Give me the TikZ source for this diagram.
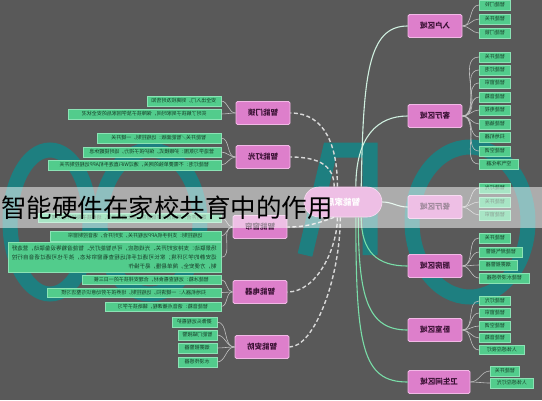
\documentclass[tikz,border=0pt]{standalone}
\usepackage{fontspec}
\usepackage{graphicx}
\setmainfont{Noto Sans CJK SC}
\XeTeXlinebreaklocale "zh"
\XeTeXlinebreakskip=0pt plus 1pt
\definecolor{bg}{HTML}{595959}
\definecolor{wm}{HTML}{1E7F80}
\definecolor{pinkf}{HTML}{DD7FCB}
\definecolor{pinkb}{HTML}{F2B8E6}
\definecolor{pinkt}{HTML}{3B1235}
\definecolor{leaff}{HTML}{52CC8C}
\definecolor{leafb}{HTML}{8BE3B5}
\definecolor{leaft}{HTML}{173B27}
\definecolor{ml1}{HTML}{CFEFDF}
\definecolor{ml2}{HTML}{79DDA8}
\definecolor{dl}{HTML}{D9D9D9}
\definecolor{ll}{HTML}{BFBFBF}
\tikzset{
  pnode/.style={rectangle, rounded corners=1.5pt, fill=pinkf, draw=pinkb, line width=0.9pt,
    minimum height=23pt, minimum width=54pt, inner sep=1pt, text=pinkt,
    font=\fontsize{7.5}{9}\selectfont\bfseries},
  cnode/.style={rectangle, rounded corners=15pt, fill=pinkf, draw=pinkb, line width=0.6pt,
    minimum height=30pt, minimum width=78pt, text=white, font=\fontsize{8.5}{10}\selectfont\bfseries},
  leaf/.style={rectangle, fill=leaff, draw=leafb, line width=0.5pt, minimum height=9.5pt,
    inner sep=1.2pt, text=leaft, font=\fontsize{5}{6}\selectfont},
  mline/.style={line width=1.1pt},
  dline/.style={draw=dl, line width=1.4pt, dash pattern=on 4pt off 2.5pt},
  lline/.style={draw=ll, line width=0.6pt},
  wmark/.style={draw=wm, line width=15pt}
}
\begin{document}
\begin{tikzpicture}[x=1pt,y=1pt]
\useasboundingbox (0,0) rectangle (542,-400);
\fill[bg] (0,0) rectangle (542,-400);
% watermark
\draw[wmark] (50,-222) ellipse [x radius=40, y radius=72];
\draw[wmark] (150,-222) ellipse [x radius=50, y radius=72];
\draw[wmark, line join=miter] (305,-255) -- (330,-150) -- (370,-150) -- (370,-255);
\draw[wmark] (470,-222) ellipse [x radius=58, y radius=75];

% center
\node[cnode] (ctr) at (343,-202) {\reflectbox{智能家居}};

% right main nodes
\node[pnode] (r1) at (435,-26) {\reflectbox{入户区域}};
\node[pnode] (r2) at (435,-116) {\reflectbox{客厅区域}};
\node[pnode] (r3) at (435,-207) {\reflectbox{餐厅区域}};
\node[pnode] (r4) at (435,-266) {\reflectbox{厨房区域}};
\node[pnode] (r5) at (435,-330) {\reflectbox{卧室区域}};
\node[pnode, minimum width=62pt] (r6) at (439,-382) {\reflectbox{卫生间区域}};

% left main nodes
\node[pnode] (l1) at (263,-113) {\reflectbox{智能门锁}};
\node[pnode] (l2) at (263,-157) {\reflectbox{智能灯光}};
\node[pnode] (l3) at (260,-227) {\reflectbox{智能窗帘}};
\node[pnode] (l4) at (260,-292) {\reflectbox{智能电器}};
\node[pnode] (l5) at (262,-347) {\reflectbox{智能安防}};

% main connectors right
\draw[mline, ml1] (ctr.40) .. controls +(2,110) and +(-40,0) .. (r1.west);
\draw[mline, ml1] (ctr.50) .. controls +(0,50) and +(-30,0) .. (r2.west);
\draw[mline, ml1] (ctr.east) to[out=0,in=180] (r3.west);
\draw[mline, ml2] (ctr.-40) .. controls +(0,-35) and +(-30,0) .. (r4.west);
\draw[mline, ml2] (ctr.-45) .. controls +(0,-80) and +(-40,0) .. (r5.west);
\draw[mline, ml2] (ctr.-50) .. controls +(0,-130) and +(-45,0) .. (r6.west);

% main connectors left (dashed)
\draw[dline] (ctr.110) .. controls +(0,40) and +(35,0) .. (l1.east);
\draw[dline] (ctr.120) .. controls +(0,20) and +(30,0) .. (l2.east);
\draw[dline] (ctr.240) to[out=200,in=0] (l3.east);
\draw[dline] (ctr.250) .. controls +(0,-30) and +(30,0) .. (l4.east);
\draw[dline] (ctr.260) .. controls +(0,-60) and +(25,0) .. (l5.east);

% right leaves
\foreach \i/\y/\w/\t in {1/5/31/{智能门铃}, 2/19/31/{智能开关}, 3/33/31/{智能门锁}}
 {\node[leaf, anchor=west, minimum width=\w pt] (ra\i) at (479,-\y) {\reflectbox{\t}};
  \draw[lline] (r1.east) to[out=0,in=180] (ra\i.west);}
\foreach \i/\y/\w/\t in {1/57/31/{智能开关}, 2/70/31/{智能灯泡}, 3/83/31/{智能窗帘}, 4/97/31/{智能音箱},
  5/110/31/{智能电视}, 6/124/31/{智能插座}, 7/137/31/{扫地机器}, 8/151/31/{智能空调}, 9/164/39/{空气净化器}}
 {\node[leaf, anchor=west, minimum width=\w pt] (rb\i) at (479,-\y) {\reflectbox{\t}};
  \draw[lline] (r2.east) to[out=0,in=180] (rb\i.west);}
\foreach \i/\y/\w/\t in {1/188/31/{智能灯光}, 2/202/31/{智能开关}, 3/215/31/{智能窗帘}}
 {\node[leaf, anchor=west, minimum width=\w pt] (rc\i) at (479,-\y) {\reflectbox{\t}};
  \draw[lline] (r3.east) to[out=0,in=180] (rc\i.west);}
\foreach \i/\y/\w/\t in {1/238/31/{智能开关}, 2/252/43/{智能燃气报警}, 3/265/38/{烟雾报警器}, 4/278/50/{智能水浸传感器}}
 {\node[leaf, anchor=west, minimum width=\w pt] (rd\i) at (479,-\y) {\reflectbox{\t}};
  \draw[lline] (r4.east) to[out=0,in=180] (rd\i.west);}
\foreach \i/\y/\w/\t in {1/301/31/{智能灯光}, 2/313/31/{智能窗帘}, 3/326/31/{智能空调}, 4/338/31/{智能音箱}, 5/350/45/{人体感应夜灯}}
 {\node[leaf, anchor=west, minimum width=\w pt, minimum height=9pt] (re\i) at (479,-\y) {\reflectbox{\t}};
  \draw[lline] (r5.east) to[out=0,in=180] (re\i.west);}
\foreach \i/\y/\w/\t in {1/371/29/{智能开关}, 2/383/43/{人体感应灯光}}
 {\node[leaf, anchor=west, minimum width=\w pt] (rf\i) at (490,-\y) {\reflectbox{\t}};
  \draw[lline] (r6.east) to[out=0,in=180] (rf\i.west);}

% left leaves
\foreach \i/\y/\w/\t in {1/101/74/{安全出入门，到离校及时告知}, 2/114/153/{实时了解孩子到家时间，保障孩子放学回家后的安全状况}}
 {\node[leaf, anchor=east, minimum width=\w pt] (la\i) at (221,-\y) {\reflectbox{\t}};
  \draw[lline] (l1.west) to[out=180,in=0] (la\i.east);}
\foreach \i/\y/\w/\t in {1/138/124/{智能开关／智能面板：远程控制，一键开关}, 2/152/138/{营造学习氛围：护眼模式，保护孩子视力，适时提醒休息},
  3/165/173/{智能灯泡：不需要单独的网关，通过WiFi直连手机APP远程控制开关}}
 {\node[leaf, anchor=east, minimum width=\w pt] (lb\i) at (221,-\y) {\reflectbox{\t}};
  \draw[lline] (l2.west) to[out=180,in=0] (lb\i.east);}
\foreach \i/\y/\w/\t in {1/217.5/183/{定时开合：早晨自动开启窗帘，晚上自动关闭，培养孩子良好作息习惯}, 2/236/171/{远程控制：支持手机APP远程开关，定时开合，语音控制窗帘}}
 {\node[leaf, anchor=east, minimum width=\w pt] (lc\i) at (221,-\y) {\reflectbox{\t}};
  \draw[lline] (l3.west) to[out=180,in=0] (lc\i.east);}
\node[leaf, anchor=east, minimum width=213pt, minimum height=30pt] (lc3) at (221,-257.5)
  {\reflectbox{\parbox{205pt}{\fontsize{5.5}{9}\selectfont 场景联动：支持定时开关、光线感应，可与智能灯光、智能音箱等设备联动，营造舒适安静的学习环境；家长可通过手机远程查看窗帘状态，孩子也可通过语音自行控制，方便安全，简单易懂，易于操作}}};
\draw[lline] (l3.west) to[out=180,in=0] (lc3.east);
\foreach \i/\y/\w/\t in {1/279.5/139/{智能冰箱：远程查看食材，合理安排孩子的一日三餐}, 2/292.5/174/{扫地机器人：一键清扫，远程控制，培养孩子劳动意识与整洁习惯},
  3/306.5/116/{智能音箱：语音点播课程，辅助孩子学习}}
 {\node[leaf, anchor=east, minimum width=\w pt] (ld\i) at (221,-\y) {\reflectbox{\t}};
  \draw[lline] (l4.west) to[out=180,in=0] (ld\i.east);}
\foreach \i/\y/\w/\t in {1/322/45/{摄像头远程看护}, 2/335/39/{智能门磁报警}, 3/348/39/{烟雾报警器}, 4/362/39/{水浸传感器}}
 {\node[leaf, anchor=east, minimum width=\w pt] (le\i) at (217,-\y) {\reflectbox{\t}};
  \draw[lline] (l5.west) to[out=180,in=0] (le\i.east);}

% banner overlay
\fill[white, opacity=0.5] (0,-187) rectangle (542,-228);
\node[anchor=west, inner sep=0pt, font=\fontsize{25.5}{26}\selectfont, text=black] (ttl) at (1,-208) {智能硬件在家校共育中的作用};
\end{tikzpicture}
\end{document}
